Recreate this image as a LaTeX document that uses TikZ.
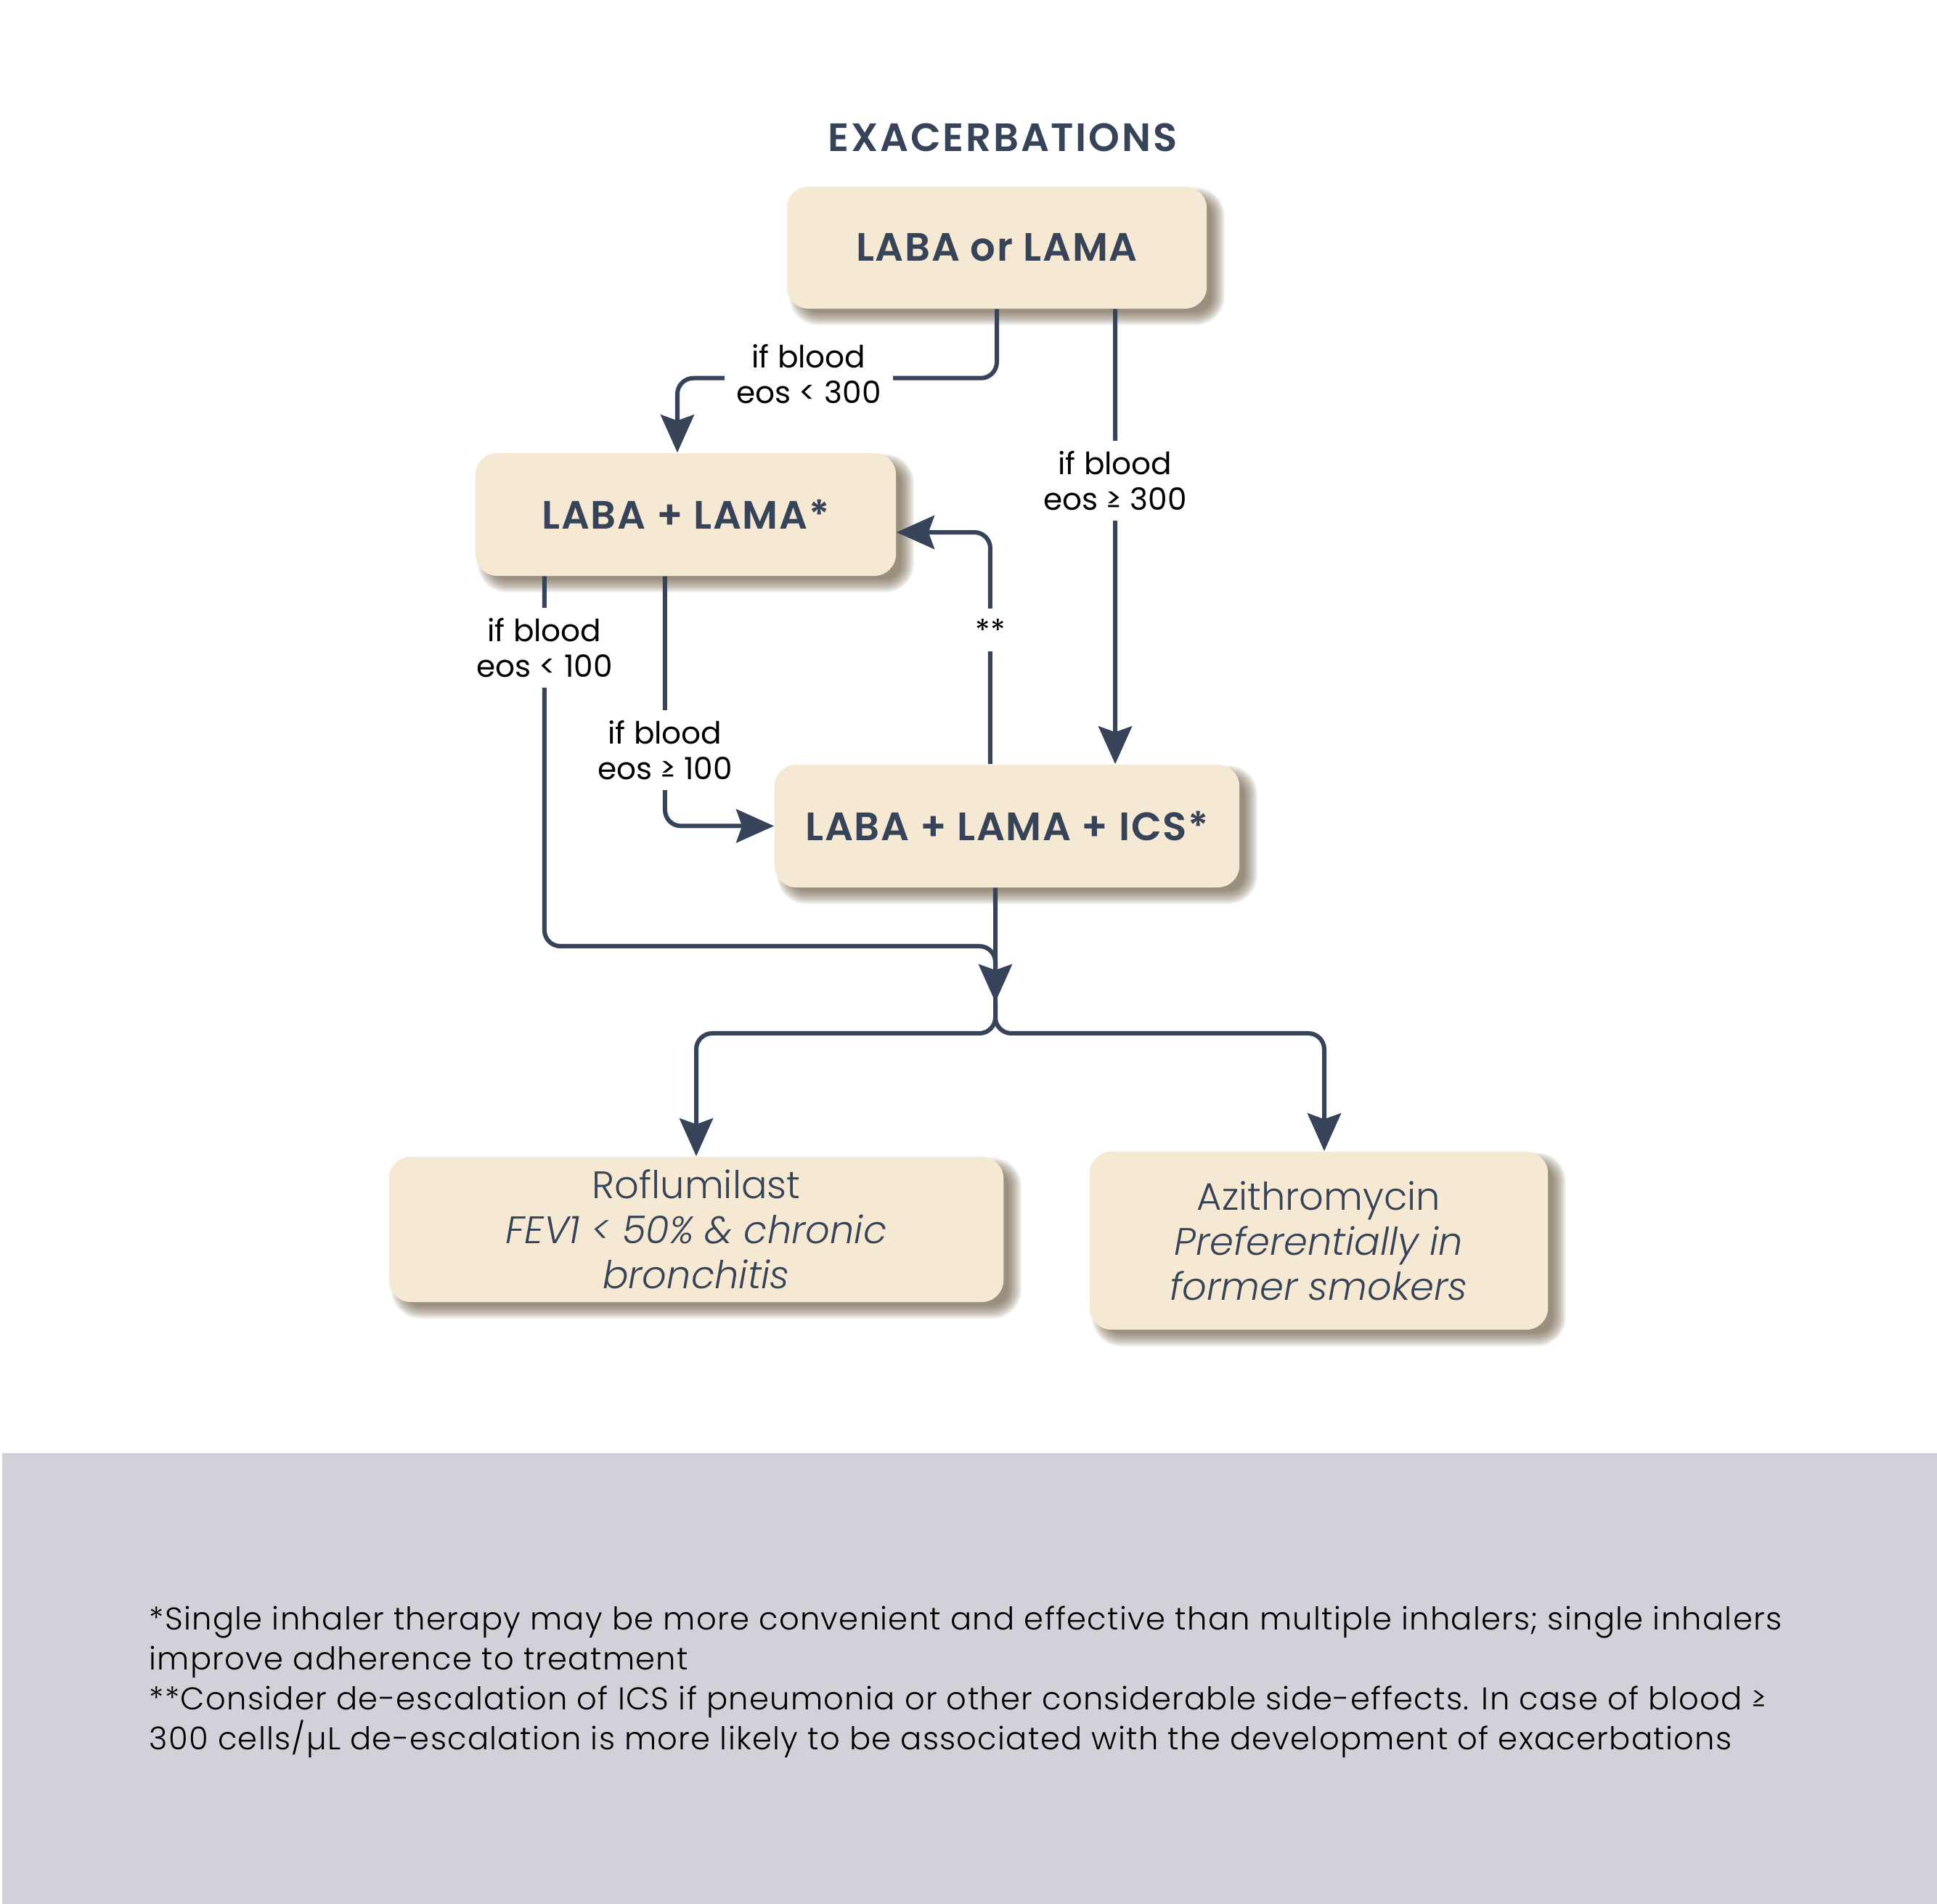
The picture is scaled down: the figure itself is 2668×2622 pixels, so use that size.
\documentclass[tikz,border=0pt]{standalone}
\usepackage{fontspec}
\setmainfont{Poppins}
\newfontfamily\boldf{Poppins SemiBold}[LetterSpace=3]
\newfontfamily\titlef{Poppins SemiBold}[LetterSpace=5]
\newfontfamily\lightf{Poppins Light}[ItalicFont={Poppins Light Italic}]
\newfontfamily\footf{Poppins Light}[LetterSpace=3]
\usetikzlibrary{arrows.meta,calc}
\definecolor{slate}{HTML}{364358}
\definecolor{boxfill}{HTML}{F5E9D3}
\definecolor{footgray}{HTML}{D2D0D8}
\definecolor{shadowc}{HTML}{5A4A2E}
\pgfdeclarelayer{background}
\pgfsetlayers{background,main}
\newcommand\softshadow[1]{%
  \begin{pgfonlayer}{background}
  \foreach \s in {-8,-6,...,10}{%
    \pgfmathsetmacro\rr{max(0.4,3+0.1*\s)}%
    \fill[shadowc, opacity=0.09, rounded corners=\rr mm]
      ($(#1.north west)+(14-\s,12-\s)$) rectangle ($(#1.south east)+(14+\s,12+\s)$);
  }
  \end{pgfonlayer}}
\begin{document}
\begin{tikzpicture}[x=0.01cm,y=-0.01cm,
  tbox/.style={fill=boxfill, rounded corners=3mm, inner sep=0pt, align=center, text=slate},
  boldtxt/.style={font=\boldf\fontsize{15.5pt}{18pt}\selectfont},
  softtxt/.style={font=\lightf\fontsize{15pt}{17.6pt}\selectfont},
  conn/.style={draw=slate, line width=0.6mm, rounded corners=2.2mm},
  arr/.style={conn, -{Stealth[length=5.2mm, width=4.6mm, inset=0.8mm]}},
  lbl/.style={fill=white, inner xsep=1.6mm, inner ysep=1.4mm, align=center, font=\fontsize{12pt}{14pt}\selectfont, text=black},
  foot/.style={anchor=base west, inner sep=0pt, font=\footf\fontsize{12.3pt}{15.6pt}\selectfont, text=black},
]
\useasboundingbox (0,0) rectangle (2668,2622);
\begin{pgfonlayer}{background}
\fill[footgray] (3,2001) rectangle (2668,2622);
\end{pgfonlayer}

\node[font=\titlef\fontsize{15.5pt}{18pt}\selectfont, text=slate] (title) at (1381,189) {EXACERBATIONS};

\node[tbox, boldtxt, minimum width=57.8mm, minimum height=16.8mm] (b1) at (1373,341) {LABA or LAMA};
\node[tbox, boldtxt, minimum width=57.9mm, minimum height=16.9mm] (b2) at (944.5,708.5) {LABA + LAMA*};
\node[tbox, boldtxt, minimum width=64mm, minimum height=16.9mm] (b3) at (1387,1137.5) {LABA + LAMA + ICS*};
\node[tbox, softtxt, minimum width=84.6mm, minimum height=20mm] (b4) at (959,1693) {Roflumilast\\\textit{FEV1 < 50\% \& chronic}\\\textit{bronchitis}};
\node[tbox, softtxt, minimum width=63.1mm, minimum height=24.5mm] (b5) at (1816.5,1708.5) {Azithromycin\\\textit{Preferentially in}\\\textit{former smokers}};

\softshadow{b1}
\softshadow{b2}
\softshadow{b3}
\softshadow{b4}
\softshadow{b5}

\coordinate (j1) at (1371,1303);
\coordinate (mtip) at (1371,1380);
\coordinate (split) at (1371,1423);

\draw[arr] (b1.south) -- ++(0,95) -| ([xshift=-1.15mm]b2.north);
\draw[arr] ([xshift=16.3mm]b1.south) -- ([xshift=14.9mm]b3.north);
\draw[conn] ([xshift=-19.45mm]b2.south) |- (j1) -- (mtip);
\draw[arr] ([xshift=-2.85mm]b2.south) |- (b3.west);
\draw[arr] ([xshift=-2.3mm]b3.north) |- ([yshift=-2.45mm]b2.east);
\draw[arr] ([xshift=-1.6mm]b3.south) -- (mtip);
\draw[arr] (mtip) -- (split) -| (b4.north);
\draw[arr] (mtip) -- (split) -| ([xshift=0.75mm]b5.north);

\node[lbl] (l1) at (1114,515) {if blood\\eos < 300};
\node[lbl] (l2) at (1536,662) {if blood\\eos ≥ 300};
\node[lbl] (l3) at (750,892) {if blood\\eos < 100};
\node[lbl] (l4) at (916,1033) {if blood\\eos ≥ 100};
\node[lbl] (l5) at (1364,868) {**};

\node[foot] (f1) at (205,2244) {*Single inhaler therapy may be more convenient and effective than multiple inhalers; single inhalers};
\node[foot] (f2) at (205,2299) {improve adherence to treatment};
\node[foot] (f3) at (205,2354) {**Consider de-escalation of ICS if pneumonia or other considerable side-effects. In case of blood ≥};
\node[foot] (f4) at (205,2409) {300 cells/µL de-escalation is more likely to be associated with the development of exacerbations};
\end{tikzpicture}
\end{document}
